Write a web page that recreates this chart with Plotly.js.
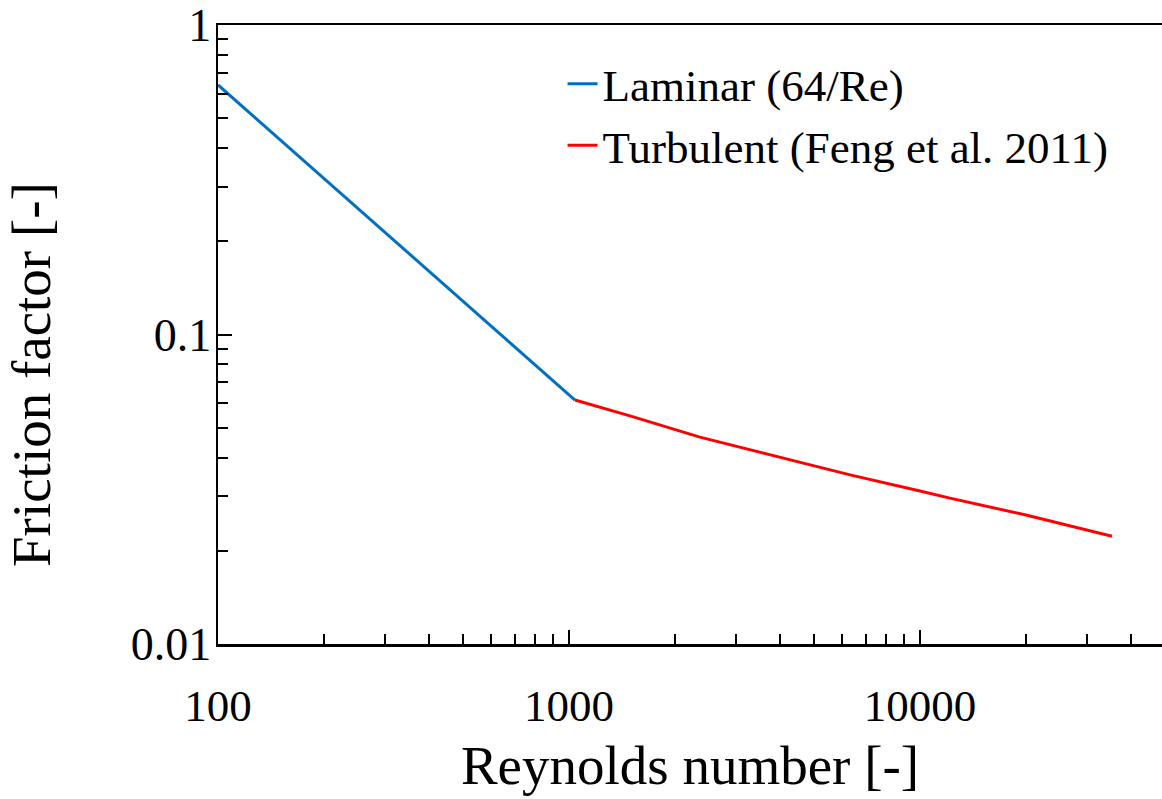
<!DOCTYPE html>
<html>
<head>
<meta charset="utf-8">
<script src="https://cdn.plot.ly/plotly-3.0.1.min.js"></script>
<style>
html,body{margin:0;padding:0;background:#fff;overflow:hidden;}
#chart{width:1162px;height:799px;}
</style>
</head>
<body>
<div id="chart"></div>
<script>
// Laminar (64/Re)
const laminarRe = [100, 200, 400, 600, 800, 1040];
const laminarF  = [0.64, 0.32, 0.16, 0.107, 0.08, 0.0614];
// Turbulent (Feng et al. 2011)
const turbRe = [1040, 1500, 2360, 2990, 4550, 6320, 10000, 12170, 20040, 23450, 35240];
const turbF  = [0.0614, 0.0545, 0.0466, 0.0436, 0.0387, 0.0352, 0.0312, 0.0296, 0.0261, 0.0250, 0.0223];

const xTickVals = [100, 1000, 10000];
const xTickText = ['100', '1000', '10000'];
const yTickVals = [0.01, 0.1, 1];
const yTickText = ['0.01', '0.1', '1'];
const seriesNames = ['Laminar (64/Re)', 'Turbulent (Feng et al. 2011)'];
const xTitle = 'Reynolds number [-]';
const yTitle = 'Friction factor [-]';

function minorLog(lo, hi) {
  const out = [];
  for (let d = lo; d < hi; d *= 10) {
    for (let k = 2; k <= 9; k++) out.push(+(d * k).toPrecision(6));
  }
  return out;
}

const FONT = 'Liberation Serif, Times New Roman, serif';

const data = [
  {x: laminarRe, y: laminarF, type: 'scatter', mode: 'lines', name: seriesNames[0],
   line: {color: '#0070C0', width: 3}},
  {x: turbRe, y: turbF, type: 'scatter', mode: 'lines', name: seriesNames[1],
   line: {color: '#FF0000', width: 3}}
];

const layout = {
  width: 1162, height: 799,
  margin: {l: 218, r: 0, t: 25, b: 155},
  paper_bgcolor: '#fff', plot_bgcolor: '#fff',
  font: {family: FONT, color: '#000', size: 45},
  showlegend: true,
  legend: {x: 0.365, y: 0.963, xanchor: 'left', yanchor: 'top',
           bgcolor: 'rgba(0,0,0,0)', font: {family: FONT, size: 45, color: '#000'},
           tracegroupgap: 0, itemwidth: 30},
  xaxis: {
    type: 'log', range: [2, 2 + 944/351],
    tickmode: 'array', tickvals: xTickVals, ticktext: xTickText,
    ticks: 'inside', ticklen: 14, tickwidth: 2, tickcolor: '#000',
    showline: true, linewidth: 2.5, linecolor: '#000', mirror: true,
    showgrid: false, zeroline: false,
    tickfont: {family: FONT, size: 45, color: '#000'},
    ticklabelstandoff: 20,
    minor: {tickmode: 'array', tickvals: minorLog(100, 100000), ticks: 'inside',
            ticklen: 10, tickwidth: 2, tickcolor: '#000', showgrid: false},
    title: {text: xTitle, font: {family: FONT, size: 55, color: '#000'}, standoff: 16}
  },
  yaxis: {
    type: 'log', range: [-2, 0],
    tickmode: 'array', tickvals: yTickVals, ticktext: yTickText,
    ticks: 'inside', ticklen: 14, tickwidth: 2, tickcolor: '#000',
    showline: true, linewidth: 2.5, linecolor: '#000', mirror: false,
    showgrid: false, zeroline: false,
    tickfont: {family: FONT, size: 46, color: '#000'},
    ticklabelstandoff: -5,
    minor: {tickmode: 'array', tickvals: minorLog(0.01, 1), ticks: 'inside',
            ticklen: 10, tickwidth: 2, tickcolor: '#000', showgrid: false},
    title: {text: ''}
  },
  annotations: [{
    text: yTitle, textangle: -90, showarrow: false,
    xref: 'paper', yref: 'paper',
    x: -186/944, y: (644 - 375) / 619, xanchor: 'center', yanchor: 'middle',
    font: {family: FONT, size: 55, color: '#000'}
  }]
};

Plotly.newPlot('chart', data, layout, {displayModeBar: false, staticPlot: true});
</script>
</body>
</html>
